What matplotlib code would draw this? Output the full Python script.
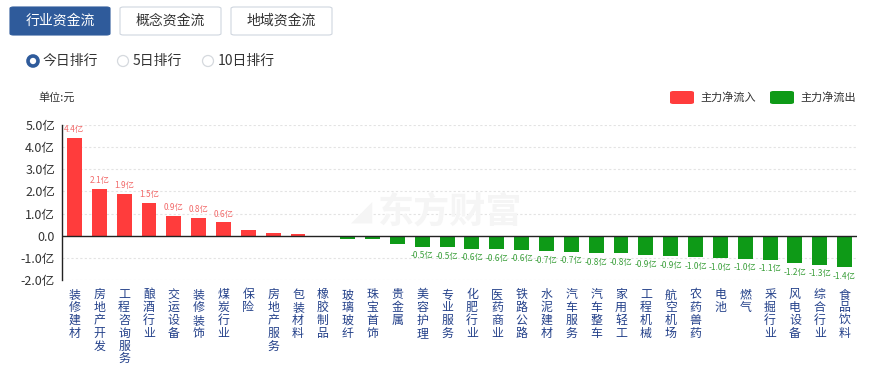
import matplotlib
matplotlib.use("Agg")
import matplotlib.pyplot as plt
from matplotlib.patches import FancyBboxPatch, Circle

plt.rcParams['font.family'] = ['Noto Sans CJK SC', 'DejaVu Sans']

categories = ['装修建材', '房地产开发', '工程咨询服务', '酿酒行业', '交运设备', '装修装饰',
              '煤炭行业', '保险', '房地产服务', '包装材料', '橡胶制品', '玻璃玻纤',
              '珠宝首饰', '贵金属', '美容护理', '专业服务', '化肥行业', '医药商业',
              '铁路公路', '水泥建材', '汽车服务', '汽车整车', '家用轻工', '工程机械',
              '航空机场', '农药兽药', '电池', '燃气', '采掘行业', '风电设备',
              '综合行业', '食品饮料']
values = [4.4, 2.1, 1.9, 1.5, 0.9, 0.8, 0.6, 0.28, 0.13, 0.09, 0.0, -0.17,
          -0.17, -0.38, -0.50, -0.52, -0.58, -0.60, -0.64, -0.70, -0.72, -0.78,
          -0.80, -0.88, -0.92, -0.98, -1.02, -1.04, -1.08, -1.24, -1.32, -1.42]
yticks = [5, 4, 3, 2, 1, 0, -1, -2]
ytick_labels = ['5.0亿', '4.0亿', '3.0亿', '2.0亿', '1.0亿', '0.0', '-1.0亿', '-2.0亿']

RED = '#ff3c3c'
GREEN = '#0e9a17'

W, H = 875, 369
fig = plt.figure(figsize=(W / 100, H / 100), dpi=100)

def fx(px):
    return px / W

def fy(py):
    return 1 - py / H

ax = fig.add_axes([fx(62), fy(280), fx(857) - fx(62), fy(125) - fy(280)])

x = list(range(len(categories)))
colors = [RED if v >= 0 else GREEN for v in values]
ax.bar(x, values, width=0.6, color=colors, zorder=3)

for xi, v in zip(x, values):
    if abs(v) >= 0.45:
        if v > 0:
            ax.annotate(f'{v:.1f}亿', (xi, v), xytext=(0, 6.0), textcoords='offset points',
                        ha='center', va='center', fontsize=6, color='#f26a6a')
        else:
            ax.annotate(f'{v:.1f}亿', (xi, v), xytext=(0, -6.5), textcoords='offset points',
                        ha='center', va='center', fontsize=6, color='#3a9f3a')

ax.set_xlim(-0.5, len(categories) - 0.5)
ax.set_ylim(-2, 5)
ax.set_yticks(yticks)
ax.set_yticklabels(ytick_labels, fontsize=9, color='#333333')
ax.tick_params(axis='y', length=0, pad=5)
for yv in yticks:
    if yv != 0:
        ax.axhline(yv, color='#e3e3e3', lw=0.8, ls=(0, (2, 2)), zorder=1)
ax.axhline(0, color='#222222', lw=1.0, zorder=4)

ax.set_xticks(x)
ax.set_xticklabels(['\n'.join(c) for c in categories], fontsize=8.6, color='#24418a',
                   linespacing=0.98, va='top')
ax.tick_params(axis='x', length=0, pad=6)

for s in ['top', 'right', 'bottom']:
    ax.spines[s].set_visible(False)
ax.spines['left'].set_color('#222222')
ax.spines['left'].set_linewidth(1.0)

# watermark
fig.text(fx(450), fy(212), '东方财富', fontsize=26, fontweight='bold', color='#f5f5f5',
         ha='center', va='center', zorder=0)
fig.text(fx(362), fy(212), '◢', fontsize=20, color='#f5f5f5',
         family=['DejaVu Sans'], ha='center', va='center', zorder=0)

# top buttons
buttons = [('行业资金流', 10, 110, True), ('概念资金流', 120, 221, False), ('地域资金流', 231, 332, False)]
for label, x0, x1, active in buttons:
    p = FancyBboxPatch((fx(x0), fy(35)), fx(x1) - fx(x0), fy(7) - fy(35),
                       boxstyle='round,pad=0,rounding_size=0.004', transform=fig.transFigure,
                       facecolor='#2f5b9b' if active else 'white',
                       edgecolor='#2f5b9b' if active else '#cfd6df', lw=0.8)
    fig.patches.append(p)
    fig.text(fx((x0 + x1) / 2), fy(21), label, fontsize=10,
             color='white' if active else '#333333', ha='center', va='center')

# radio options
radios = [('今日排行', 33, True), ('5日排行', 123, False), ('10日排行', 208, False)]
for label, cx, sel in radios:
    if sel:
        c = Circle((cx, H - 61), 5, transform=None, facecolor='white', edgecolor='#2f5b9b', lw=2.6)
    else:
        c = Circle((cx, H - 61), 5.5, transform=None, facecolor='white', edgecolor='#d5d9de', lw=0.9)
    fig.patches.append(c)
    fig.text(fx(cx + 10), fy(61), label, fontsize=10, color='#333333', ha='left', va='center')

fig.text(fx(38), fy(97), '单位:元', fontsize=8, color='#333333', ha='left', va='center')

# legend
legend_items = [('主力净流入', RED, 670), ('主力净流出', GREEN, 770)]
for label, col, x0 in legend_items:
    p = FancyBboxPatch((fx(x0), fy(104)), fx(24), fy(91) - fy(104),
                       boxstyle='round,pad=0,rounding_size=0.004', transform=fig.transFigure,
                       facecolor=col, edgecolor='none')
    fig.patches.append(p)
    fig.text(fx(x0 + 30), fy(97.5), label, fontsize=8, color='#333333', ha='left', va='center')

fig.savefig('out.png', dpi=100)
